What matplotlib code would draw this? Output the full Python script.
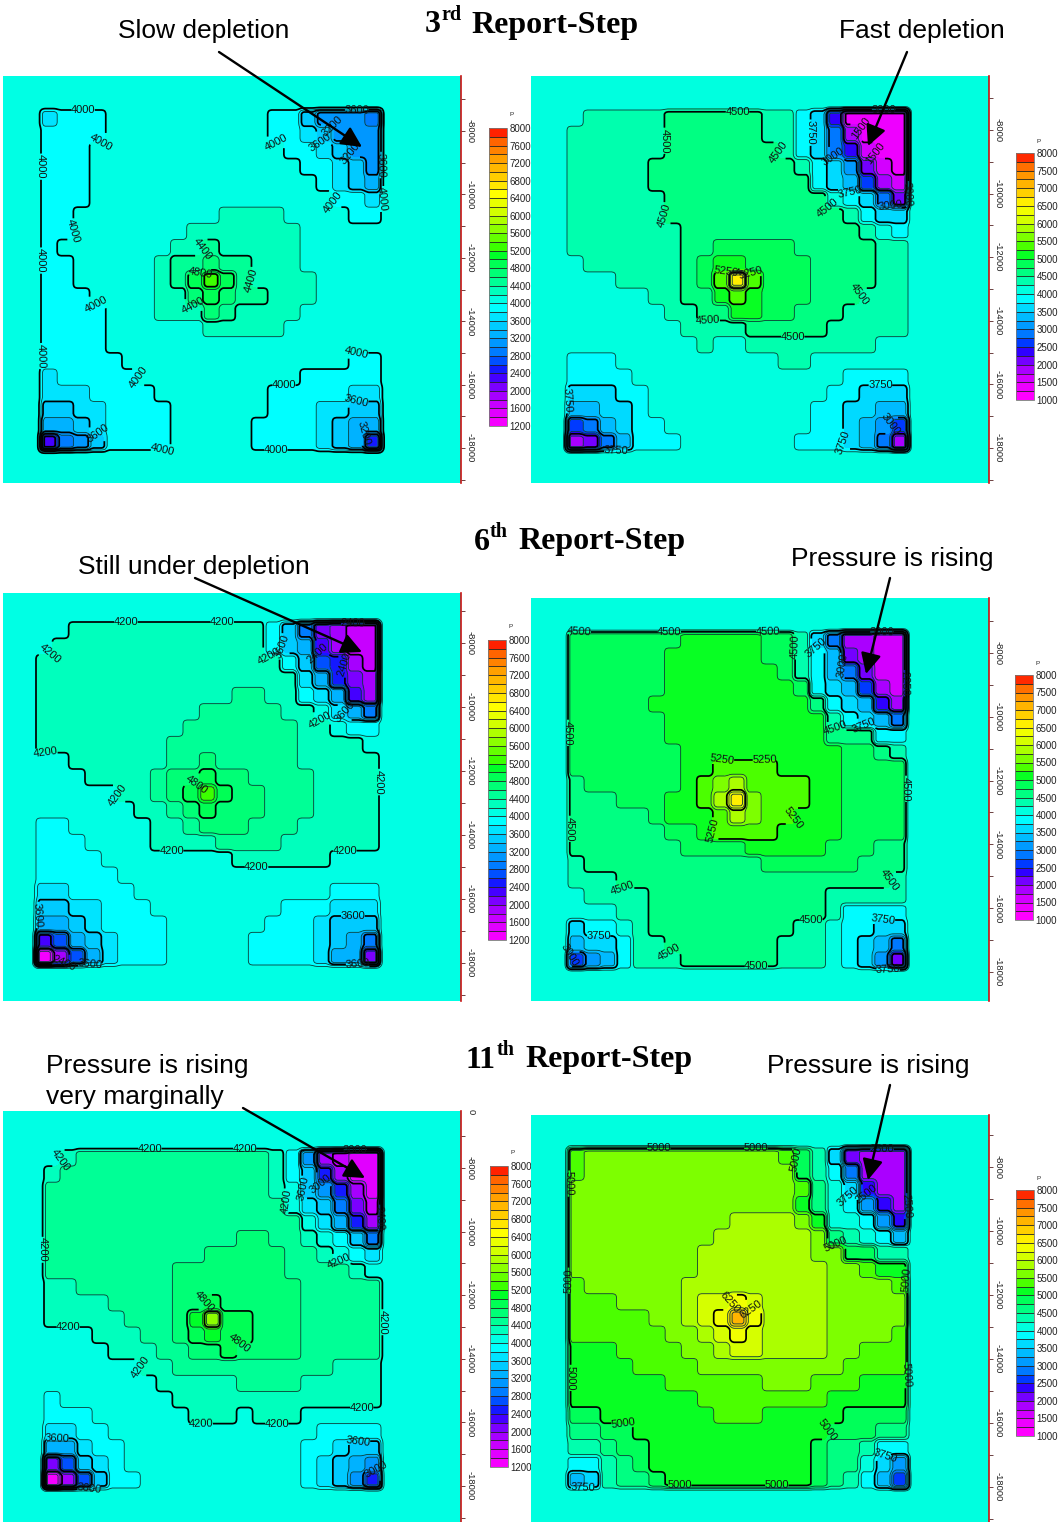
from __future__ import annotations

import numpy as np

import matplotlib

matplotlib.use("Agg")
import matplotlib.pyplot as plt
from matplotlib.colors import ListedColormap
from matplotlib.ticker import MultipleLocator

plt.rcParams["font.family"] = ["Liberation Sans", "DejaVu Sans"]
plt.rcParams["axes.unicode_minus"] = False

W, H = 1061, 1522

# cell pressures, in hundreds of psi, 21 x 21 blocks
STEP3_LEFT = [
    [37,39,39,39,41,41,41,41,41,41,41,41,41,41,39,39,35,31,31,31,29],
    [39,39,39,39,41,41,41,41,41,41,41,41,41,41,39,39,37,35,31,31,31],
    [39,39,39,41,41,41,41,41,41,41,41,41,41,41,41,39,39,37,35,31,31],
    [39,39,39,41,41,41,41,41,41,41,41,41,41,41,41,41,39,39,37,35,31],
    [39,39,39,41,41,41,41,41,41,41,41,41,41,41,41,41,41,39,37,35,33],
    [39,39,39,41,41,41,41,41,41,41,41,41,41,41,41,41,41,41,39,39,37],
    [39,39,41,41,41,41,41,41,41,41,41,43,43,43,43,41,41,41,41,39,39],
    [39,39,41,41,41,41,41,41,41,43,43,43,43,43,43,43,41,41,41,41,41],
    [39,41,41,41,41,41,41,41,43,43,45,43,43,43,43,43,41,41,41,41,41],
    [39,39,41,41,41,41,41,43,45,45,47,45,45,43,43,43,41,41,41,41,41],
    [39,39,41,41,41,41,41,43,45,49,53,49,45,43,43,43,43,41,41,41,41],
    [39,39,39,41,41,41,41,43,43,47,49,47,45,45,43,43,43,41,41,41,41],
    [39,39,39,39,41,41,41,43,43,43,47,45,43,43,43,43,41,41,41,41,41],
    [39,39,39,39,41,41,41,41,41,41,43,43,43,43,43,41,41,41,41,41,41],
    [39,39,39,39,41,41,41,41,41,41,41,41,41,41,41,41,41,41,41,41,41],
    [39,39,39,39,39,41,41,41,41,41,41,41,41,41,41,41,41,41,41,39,39],
    [37,39,39,39,39,39,41,41,41,41,41,41,41,41,41,41,39,39,39,39,39],
    [37,37,37,39,39,39,39,41,41,41,41,41,41,41,39,39,39,39,39,37,37],
    [35,35,37,37,39,39,39,39,41,41,41,41,41,41,39,39,39,37,37,35,35],
    [33,33,35,37,39,39,39,39,41,41,41,41,41,39,39,39,39,37,35,33,33],
    [23,29,31,35,39,39,39,39,41,41,41,41,41,39,39,39,39,37,35,33,25],
]

STEP3_RIGHT = [
    [41,44,44,44,44,44,46,46,46,46,46,46,44,44,39,36,24,14,14,14,14],
    [44,44,44,44,44,44,46,46,46,46,46,46,44,44,39,36,29,19,14,14,14],
    [44,44,44,44,44,44,46,46,46,46,46,46,46,44,39,36,29,24,16,14,14],
    [44,44,44,44,44,46,46,46,46,46,46,46,46,46,44,39,36,31,21,16,14],
    [44,44,44,44,44,46,46,46,46,46,46,46,46,46,46,39,36,34,26,19,16],
    [44,44,44,44,44,44,46,46,46,46,46,46,46,46,46,46,41,39,36,29,21],
    [44,44,44,44,44,44,46,46,46,46,46,46,46,46,46,46,46,44,39,36,36],
    [44,44,44,44,44,44,44,46,46,46,46,46,46,46,46,46,46,46,44,41,39],
    [44,44,44,44,44,44,44,46,46,49,49,49,49,49,46,46,46,46,46,44,44],
    [41,44,44,44,44,44,44,46,49,51,51,49,49,49,49,46,46,46,46,44,44],
    [41,41,41,44,44,44,44,46,49,54,66,54,49,49,49,46,46,46,46,44,44],
    [41,41,41,41,41,44,44,46,46,51,54,51,49,49,49,46,46,46,44,44,44],
    [41,41,41,41,41,41,44,44,46,46,51,51,49,49,46,46,46,44,44,44,44],
    [41,41,41,41,41,41,41,44,44,44,44,46,46,46,46,46,44,44,44,44,44],
    [41,41,41,41,41,41,41,41,44,41,41,44,44,44,44,44,44,44,44,41,41],
    [39,39,39,41,41,41,41,41,41,41,41,41,41,44,44,41,41,41,41,41,41],
    [39,39,39,39,41,41,41,41,41,41,41,41,41,41,41,41,41,39,39,39,39],
    [36,36,36,39,39,41,41,41,41,41,41,41,41,41,41,41,39,39,36,36,36],
    [34,34,36,36,39,41,41,41,41,41,41,41,41,41,41,39,39,36,36,34,34],
    [26,29,34,36,39,39,41,41,41,41,41,41,41,41,41,39,39,36,34,31,26],
    [19,21,29,34,39,39,39,41,41,41,41,41,41,41,39,39,39,36,34,29,19],
]

STEP6_LEFT = [
    [41,41,43,43,43,43,43,43,43,43,43,43,43,43,39,35,29,21,19,17,17],
    [41,43,43,43,43,43,43,43,43,43,43,43,43,43,39,35,33,23,19,17,17],
    [43,43,43,43,43,43,43,43,43,43,43,43,43,43,43,39,35,27,25,19,17],
    [43,43,43,43,43,43,43,43,43,43,43,43,43,43,43,43,37,33,25,21,19],
    [43,43,43,43,43,43,43,43,43,43,43,43,45,45,43,43,39,37,33,23,19],
    [43,43,43,43,43,43,43,43,43,43,45,45,45,45,45,43,43,41,37,33,29],
    [43,43,43,43,43,43,43,43,43,45,45,45,45,45,45,45,43,43,41,39,39],
    [43,43,43,43,43,43,43,43,45,45,45,45,45,45,45,45,43,43,43,43,41],
    [41,41,43,43,43,43,43,43,45,45,47,45,45,45,45,45,43,43,43,43,43],
    [41,41,41,43,43,43,43,45,47,47,49,47,47,45,45,45,45,43,43,43,43],
    [41,41,41,41,41,43,43,45,47,49,53,49,47,47,45,45,45,43,43,43,43],
    [41,41,41,41,41,41,43,43,45,47,49,47,47,47,45,45,45,43,43,43,43],
    [39,39,41,41,41,41,41,43,43,45,47,47,47,45,45,45,43,43,43,43,43],
    [39,39,39,41,41,41,41,43,43,43,43,45,45,45,45,43,43,43,43,43,43],
    [39,39,39,39,41,41,41,41,41,41,41,41,43,43,43,43,43,43,41,41,41],
    [39,39,39,39,39,41,41,41,41,41,41,41,41,41,41,41,41,41,41,41,41],
    [37,37,39,39,39,39,41,41,41,41,41,41,41,41,41,41,41,41,39,39,39],
    [35,35,37,37,39,39,39,41,41,41,41,41,41,41,41,39,39,39,37,37,37],
    [33,33,35,37,39,39,39,39,41,41,41,41,41,41,39,39,39,37,35,35,35],
    [23,27,33,35,37,39,39,39,41,41,41,41,41,39,39,39,39,37,35,33,29],
    [13,19,27,33,37,39,39,39,41,41,41,41,41,39,39,39,39,37,33,33,21],
]

STEP6_RIGHT = [
    [49,49,49,49,49,49,49,51,51,51,51,51,49,49,44,36,29,19,19,16,16],
    [49,49,49,49,49,49,51,51,51,51,51,51,49,49,44,39,34,21,19,16,16],
    [49,49,49,49,49,49,51,51,51,51,51,51,51,49,44,39,34,29,21,16,16],
    [49,49,49,49,49,49,51,51,51,51,51,51,51,51,49,39,36,34,26,19,16],
    [49,49,49,49,49,51,51,51,51,51,51,51,51,51,51,46,39,36,34,24,19],
    [49,49,49,49,49,49,51,51,51,51,51,51,51,51,51,51,44,39,36,34,29],
    [49,49,49,49,49,49,51,51,51,51,51,51,51,51,51,51,46,46,46,39,39],
    [49,49,49,49,49,49,49,51,51,51,51,51,51,51,51,51,51,49,49,46,44],
    [49,49,49,49,49,49,49,51,51,54,54,54,54,51,51,51,51,49,49,49,49],
    [46,49,49,49,49,49,49,51,54,56,59,54,54,54,54,51,51,49,49,49,49],
    [46,46,46,49,49,49,51,51,54,59,66,56,54,54,54,51,51,49,49,49,49],
    [46,46,46,46,46,49,51,51,51,54,59,56,54,54,51,51,51,49,49,49,49],
    [46,46,46,46,46,46,49,49,51,54,54,54,54,51,51,51,51,49,49,49,49],
    [46,46,46,46,46,46,46,49,49,49,49,51,51,51,51,51,49,49,49,46,46],
    [44,46,46,46,46,46,46,46,46,46,46,46,49,49,49,49,49,49,46,46,46],
    [44,44,44,46,46,46,46,46,46,46,46,46,46,46,46,46,46,46,46,46,44],
    [41,44,44,44,44,46,46,46,46,46,46,46,46,46,46,46,44,44,44,44,44],
    [41,41,41,44,44,46,46,46,46,46,46,46,46,46,46,46,44,39,39,39,39],
    [36,39,39,41,44,46,46,46,46,46,46,46,46,46,44,44,41,39,39,36,36],
    [34,36,36,39,44,44,46,46,46,46,46,46,46,44,44,44,41,39,36,34,29],
    [26,31,34,39,44,44,44,46,46,46,46,46,46,44,44,44,41,39,36,31,21],
]

STEP11_LEFT = [
    [41,43,45,45,45,45,45,45,45,45,45,45,45,45,43,39,31,19,17,15,15],
    [43,45,45,45,45,45,45,45,45,45,45,45,45,45,43,39,35,25,19,15,15],
    [45,45,45,45,45,45,45,45,45,45,45,45,45,45,43,41,35,31,25,19,15],
    [45,45,45,45,45,45,45,45,45,45,45,45,45,45,45,41,37,35,29,21,17],
    [45,45,45,45,45,45,45,45,45,45,45,45,45,45,45,45,41,37,33,25,19],
    [45,45,45,45,45,45,45,45,45,45,45,45,47,47,45,45,43,41,39,35,29],
    [45,45,45,45,45,45,45,45,45,45,47,47,47,47,47,45,45,43,41,39,37],
    [45,45,45,45,45,45,45,45,47,47,47,47,47,47,47,45,45,45,45,43,41],
    [43,43,45,45,45,45,45,45,47,47,47,47,47,47,47,47,45,45,45,45,45],
    [43,43,43,43,45,45,45,45,47,47,49,47,47,47,47,47,45,45,45,45,45],
    [43,43,43,43,43,45,45,45,47,51,57,49,49,47,47,47,45,45,45,45,45],
    [41,41,41,43,43,43,45,45,47,49,51,49,49,47,47,47,45,45,45,45,45],
    [41,41,41,41,43,43,43,45,45,47,47,49,47,47,47,47,45,45,45,45,45],
    [41,41,41,41,41,41,43,43,45,45,45,45,45,45,45,45,45,45,43,43,43],
    [41,41,41,41,41,41,41,43,43,43,43,43,45,45,45,45,43,43,43,43,43],
    [39,41,41,41,41,41,41,41,43,43,43,43,43,43,43,43,43,43,43,43,43],
    [39,39,39,41,41,41,41,41,41,43,43,43,41,43,43,43,41,41,41,41,41],
    [37,37,39,39,41,41,41,41,41,41,41,41,41,41,41,41,41,39,39,39,39],
    [33,33,37,39,39,41,41,41,41,41,41,41,41,41,41,41,39,39,37,35,35],
    [21,27,35,37,39,41,41,41,41,41,41,41,41,41,41,41,39,37,35,33,31],
    [13,19,27,35,39,39,41,41,41,41,41,41,41,41,41,41,39,37,35,31,25],
]

STEP11_RIGHT = [
    [54,56,56,56,56,56,56,56,56,56,56,56,56,54,49,44,36,21,19,19,19],
    [54,56,56,56,56,56,56,56,56,56,56,56,56,56,49,44,39,29,19,19,19],
    [56,56,56,56,56,56,56,56,56,56,56,56,56,56,54,46,41,36,24,19,19],
    [56,56,56,56,56,56,56,56,56,56,56,56,56,56,51,46,41,39,31,24,19],
    [56,56,56,56,56,56,56,56,56,56,59,59,59,59,56,51,41,41,39,31,24],
    [56,56,56,56,56,56,56,56,56,59,59,59,59,59,59,56,46,44,41,39,34],
    [56,56,56,56,56,56,56,56,59,59,59,59,59,59,59,56,56,49,49,44,44],
    [56,56,56,56,56,56,56,56,59,59,59,59,59,59,59,59,56,56,54,51,51],
    [54,56,56,56,56,56,56,59,59,59,59,59,59,59,59,59,56,56,56,56,54],
    [54,54,54,56,56,56,56,59,61,61,64,61,59,59,59,59,56,56,56,56,56],
    [54,54,54,54,54,56,56,59,61,64,71,64,59,59,59,59,56,56,56,56,56],
    [54,54,54,54,54,54,56,56,59,61,64,61,59,59,59,59,56,56,56,56,54],
    [51,51,51,54,54,54,54,56,56,59,61,61,59,59,59,59,56,56,54,54,54],
    [51,51,51,51,54,54,54,54,56,56,56,56,56,56,56,56,56,54,54,54,54],
    [51,51,51,51,51,51,54,54,54,54,54,54,56,56,56,54,54,54,51,51,51],
    [51,51,51,51,51,51,51,51,54,54,54,54,54,54,54,54,51,51,51,51,51],
    [49,49,51,51,51,51,51,51,51,54,54,54,51,51,51,51,51,49,49,49,49],
    [46,46,49,49,51,51,51,51,51,51,51,51,51,51,51,51,49,49,49,46,46],
    [44,44,46,49,49,51,51,51,51,51,51,51,51,51,51,49,46,46,44,39,39],
    [39,39,44,46,49,51,51,51,51,51,51,51,51,51,51,49,46,46,41,36,31],
    [34,36,44,46,46,49,51,51,51,51,51,51,51,51,51,49,46,44,39,34,26],
]

OUTSIDE_VALUE = 41

LEFT_LEVELS = list(range(1200, 8001, 200))
RIGHT_LEVELS = list(range(1000, 8001, 250))
LEFT_TICKS = list(range(1200, 8001, 400))
RIGHT_TICKS = list(range(1000, 8001, 500))

MAJOR_400 = list(range(1200, 8001, 400))
MAJOR_600 = list(range(1800, 8001, 600))
MAJOR_750 = list(range(1500, 8001, 750))
MAJOR_1250 = list(range(1250, 8001, 1250))

DEPTH_TICKS = [-8000, -10000, -12000, -14000, -16000, -18000]

# pressure -> colour stops of the legend ramp
RAMP_P = [1000, 1200, 1600, 2000, 2400, 2600, 2800, 3200, 3600, 3900, 4100, 4500, 4900, 5100, 5300, 5700, 6100, 6500, 6900, 7300, 7700, 8000]
RAMP_R = [255, 255, 215, 150, 40, 0, 0, 0, 0, 0, 0, 0, 0, 0, 60, 140, 210, 255, 255, 255, 255, 255]
RAMP_G = [0, 0, 0, 0, 0, 50, 110, 165, 215, 255, 255, 255, 255, 255, 255, 255, 255, 255, 205, 160, 100, 0]
RAMP_B = [255, 255, 255, 255, 255, 255, 255, 255, 255, 255, 228, 150, 85, 40, 0, 0, 0, 0, 0, 0, 0, 0]


def band_colors(levels: list[int]) -> ListedColormap:
    mids = (np.array(levels[:-1]) + np.array(levels[1:])) / 2
    rgb = np.column_stack([np.interp(mids, RAMP_P, c) for c in (RAMP_R, RAMP_G, RAMP_B)]) / 255
    return ListedColormap(rgb)


def add_axes_px(left: float, top: float, right: float, bottom: float) -> plt.Axes:
    return plt.gcf().add_axes([left / W, 1 - bottom / H, (right - left) / W, (bottom - top) / H])


def field_on_fine_grid(grid: list[list[int]], sub: int = 10, pad: int = 2) -> tuple[np.ndarray, np.ndarray]:
    # blocks are held constant, then softened a little so nested contours separate like the simulator plot
    z = np.pad(np.array(grid, dtype=float), pad, constant_values=OUTSIDE_VALUE) - OUTSIDE_VALUE
    z = np.repeat(np.repeat(z, sub, axis=0), sub, axis=1)
    kernel = np.convolve(np.ones(3), np.ones(3)) / 9
    z = np.apply_along_axis(lambda v: np.convolve(v, kernel, mode="same"), 0, z)
    z = np.apply_along_axis(lambda v: np.convolve(v, kernel, mode="same"), 1, z)
    xs = (np.arange(z.shape[0]) + 0.5) / sub - pad
    return xs, (z + OUTSIDE_VALUE) * 100


def draw_panel(grid, box, field, levels, ticks, major, labels, depth_px, bar) -> None:
    left, top, right, bottom = box
    f_left, f_top, f_right, f_bottom = field
    cell_x = (f_right - f_left) / 21
    cell_y = (f_bottom - f_top) / 21

    ax = add_axes_px(left, top, right, bottom)
    cmap = band_colors(levels)
    bg = cmap(np.searchsorted(levels, OUTSIDE_VALUE * 100) - 1)
    ax.set_facecolor(bg)
    xs, z = field_on_fine_grid(grid)
    filled = ax.contourf(xs, xs, z, levels=levels, cmap=cmap)
    minor = [v for v in levels if v not in major]
    ax.contour(xs, xs, z, levels=minor, colors="#0b3a3a", linewidths=0.6)
    cs = ax.contour(xs, xs, z, levels=major, colors="black", linewidths=1.25)
    ax.clabel(cs, fmt="%d", fontsize=8, colors="#111111", inline=True, inline_spacing=1, manual=labels)
    ax.set_xlim((left - f_left) / cell_x, (right - f_left) / cell_x)
    ax.set_ylim((bottom - f_top) / cell_y, (top - f_top) / cell_y)
    ax.set_xticks([])
    ax.set_yticks([])
    for spine in ax.spines.values():
        spine.set_visible(False)

    y8, y18 = depth_px
    per_px = 10000 / (y18 - y8)
    depth = add_axes_px(right - 1, top, right, bottom)
    depth.patch.set_alpha(0)
    depth.set_ylim(-8000 - (bottom - y8) * per_px, -8000 - (top - y8) * per_px)
    depth.set_xticks([])
    depth.yaxis.tick_right()
    depth.set_yticks(DEPTH_TICKS)
    depth.yaxis.set_minor_locator(MultipleLocator(1000))
    depth.tick_params(axis="y", which="both", length=3, width=0.6, color="#552222", labelsize=6.8, pad=0, labelcolor="#222222")
    for lab in depth.get_yticklabels():
        lab.set_rotation(270)
        lab.set_va("center")
    for name, spine in depth.spines.items():
        spine.set_visible(name == "right")
    depth.spines["right"].set_color("#cc1111")
    depth.spines["right"].set_linewidth(1.2)

    b_left, b_top, b_right, b_bottom = bar
    cax = add_axes_px(b_left, b_top, b_right, b_bottom)
    cb = plt.gcf().colorbar(filled, cax=cax, ticks=ticks, drawedges=True)
    cb.dividers.set_color("#222222")
    cb.dividers.set_linewidth(0.6)
    cb.outline.set_edgecolor("#777777")
    cb.outline.set_linewidth(0.6)
    cb.ax.tick_params(length=0, labelsize=7, pad=2, labelcolor="#222222")
    cb.ax.text(1.12, 1.04, "P", transform=cb.ax.transAxes, fontsize=4.5, color="#222222")


def title_parts(ov: plt.Axes, y: float, number: str, x_num: float, suffix: str, x_suf: float, x_rest: float) -> None:
    ov.text(x_num, y, number, family="Liberation Serif", weight="bold", fontsize=23, va="center")
    ov.text(x_suf, y - 10, suffix, family="Liberation Serif", weight="bold", fontsize=14.5, va="center")
    ov.text(x_rest, y, "Report-Step", family="Liberation Serif", weight="bold", fontsize=23, va="center")


def arrow(ov: plt.Axes, start: tuple[float, float], tip: tuple[float, float]) -> None:
    ov.annotate(
        "", xy=tip, xytext=start,
        arrowprops=dict(arrowstyle="-|>,head_length=1.25,head_width=0.62", mutation_scale=10, lw=1.7,
                        color="black", shrinkA=0, shrinkB=0),
    )


def main() -> None:
    fig = plt.figure(figsize=(W / 100, H / 100), dpi=100, facecolor="white")

    draw_panel(
        STEP3_LEFT, (3, 76, 461, 483), (41, 110, 381, 450), LEFT_LEVELS, LEFT_TICKS, MAJOR_400,
        [(2.6, 0), (3.7, 2.5), (0, 3.5), (0, 9.3), (0, 15.2), (1.8, 7.5), (3.4, 11.9), (5.8, 16.5), (7.5, 20.6),
         (14.5, 21), (15, 17), (19.5, 15), (14.5, 1.9), (17.6, 5.7), (19.5, 0), (21, 5.5), (17.2, 2.2), (19.5, 18.2),
         (3.5, 19.5), (19, 2.7), (19.6, 19.5), (18, 1), (21, 3.4), (9.8, 8.6), (12.8, 10.5), (9.4, 12.5), (9.7, 9.7)],
        (131, 448), (489, 128, 507, 426),
    )
    draw_panel(
        STEP3_RIGHT, (531, 76, 989, 483), (567, 110, 908, 450), RIGHT_LEVELS, RIGHT_TICKS, MAJOR_750,
        [(10.5, 0.4), (6.1, 1.9), (12.7, 2.6), (6.3, 6.5), (16, 6.2), (18, 11.4), (8.7, 12.7), (13.9, 14.1),
         (19.5, 0), (14.8, 1.4), (17.4, 5.7), (21, 5.2), (0.4, 18), (3, 21), (19.3, 17), (17.2, 20.5),
         (16.4, 2.6), (19.8, 6.1), (19.5, 19.4), (18.9, 2.7), (9.7, 9.6), (11.3, 10), (18.6, 0.9)],
        (130, 448), (1016, 153, 1034, 400),
    )
    draw_panel(
        STEP6_LEFT, (3, 593, 461, 1001), (36, 622, 379, 965), LEFT_LEVELS, LEFT_TICKS, MAJOR_600,
        [(5.5, 0.3), (11.4, 0.3), (0.9, 2), (14.3, 2.6), (0.6, 7.6), (4.6, 10.6), (8.3, 13.9), (13.5, 15), (18.9, 14),
         (20.6, 9.8), (17.4, 6.6), (15.4, 1.5), (18.6, 5.5), (0.3, 18), (3.3, 20.9), (19.4, 18), (19.7, 21),
         (17.2, 2), (19.4, 0.1), (1.7, 20.9), (18.6, 2.6), (9.7, 9.7)],
        (643, 963), (488, 640, 506, 940),
    )
    draw_panel(
        STEP6_RIGHT, (531, 598, 989, 1001), (568, 632, 906, 968), RIGHT_LEVELS, RIGHT_TICKS, MAJOR_750,
        [(0.7, 0.7), (6.3, 0), (12.4, 0.2), (14.2, 0.9), (0, 6.3), (0, 12.3), (3.4, 15.6), (6.3, 19.7), (11.7, 20.8),
         (15.1, 17.5), (20, 15.5), (20.7, 9.8), (16.6, 5.7), (9.6, 8.5), (12.2, 8.2), (14.3, 11.6), (9.3, 12.4),
         (19.5, 0), (15.4, 1.6), (18.4, 5.7), (0.1, 20.2), (1.9, 19), (19.6, 18.3), (19.9, 21), (16.7, 2.3), (20.8, 3.2)],
        (653, 972), (1015, 675, 1033, 920),
    )
    draw_panel(
        STEP11_LEFT, (3, 1111, 461, 1522), (44, 1150, 381, 1488), LEFT_LEVELS, LEFT_TICKS, MAJOR_600,
        [(0.9, 0.6), (6.6, 0), (12.5, 0.2), (14.9, 3.2), (0, 6.2), (1.5, 11.1), (5.6, 13.5), (9.8, 16.5), (14.5, 16.9),
         (19.8, 15.9), (20.9, 10.7), (18.4, 6.5), (9.6, 9.4), (12, 11.4), (16.2, 2.4), (0.8, 18.2), (19.6, 18.4),
         (20.7, 19.8), (2.8, 21), (17.2, 2.1), (19.4, 0), (20.9, 4.2)],
        (1168, 1486), (490, 1166, 508, 1467),
    )
    draw_panel(
        STEP11_RIGHT, (531, 1115, 989, 1522), (568, 1148, 908, 1488), RIGHT_LEVELS, RIGHT_TICKS, MAJOR_1250,
        [(5.6, 0), (11.6, 0.2), (14.1, 0.7), (0.1, 2.2), (0, 8.2), (0, 14.2), (3.4, 17.5), (6.9, 20.8), (12.9, 20.8),
         (16, 17.4), (20.6, 8.2), (20.8, 14), (16.5, 5.5), (9.7, 9.5), (11.3, 9.9), (19.4, 0), (17.2, 3.4), (21, 3.6),
         (19.6, 19.3), (0.9, 21), (18.4, 3.1)],
        (1167, 1487), (1016, 1190, 1034, 1436),
    )

    ov = fig.add_axes([0, 0, 1, 1], zorder=10)
    ov.set_xlim(0, W)
    ov.set_ylim(H, 0)
    ov.axis("off")
    ov.patch.set_alpha(0)

    title_parts(ov, 25, "3", 425, "rd", 441, 471)
    title_parts(ov, 542, "6", 474, "th", 490, 518)
    title_parts(ov, 1060, "11", 466, "th", 497, 525)

    ov.text(118, 31, "Slow depletion", fontsize=19, va="center")
    ov.text(839, 31, "Fast depletion", fontsize=19, va="center")
    ov.text(78, 567, "Still under depletion", fontsize=19, va="center")
    ov.text(791, 559, "Pressure is rising", fontsize=19, va="center")
    ov.text(46, 1066, "Pressure is rising", fontsize=19, va="center")
    ov.text(46, 1097, "very marginally", fontsize=19, va="center")
    ov.text(767, 1066, "Pressure is rising", fontsize=19, va="center")
    ov.text(471, 1112, "0", fontsize=6.8, rotation=270, ha="center", va="center", color="#222222")

    arrow(ov, (219, 52), (362, 147))
    arrow(ov, (907, 52), (868, 146))
    arrow(ov, (195, 578), (362, 652))
    arrow(ov, (890, 578), (866, 674))
    arrow(ov, (243, 1108), (365, 1178))
    arrow(ov, (890, 1085), (868, 1180))

    fig.savefig("out.png", dpi=100, facecolor="white")


if __name__ == "__main__":
    main()
